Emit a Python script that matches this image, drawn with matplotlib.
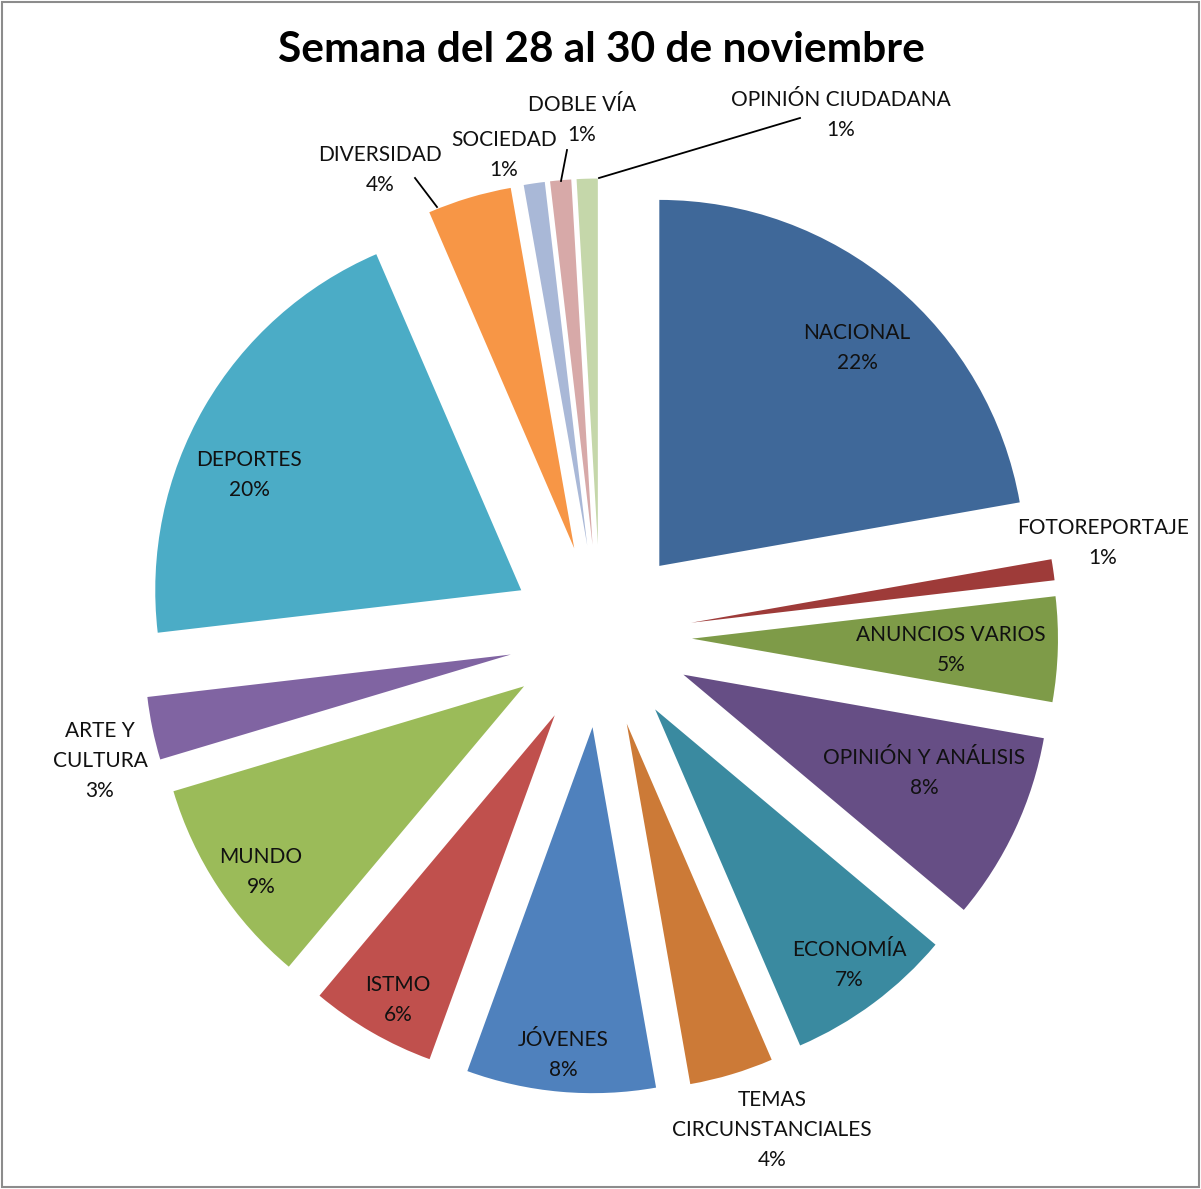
import matplotlib
matplotlib.use('Agg')
from matplotlib import pyplot as plt
from matplotlib.patches import Rectangle

# notas publicadas por sección (orden de las agujas del reloj desde las 12)
secciones = ['NACIONAL', 'FOTOREPORTAJE', 'ANUNCIOS VARIOS', 'OPINIÓN Y ANÁLISIS', 'ECONOMÍA',
             'TEMAS\nCIRCUNSTANCIALES', 'JÓVENES', 'ISTMO', 'MUNDO', 'ARTE Y\nCULTURA',
             'DEPORTES', 'DIVERSIDAD', 'SOCIEDAD', 'DOBLE VÍA', 'OPINIÓN CIUDADANA']
notas = [24, 1, 5, 9, 8, 4, 9, 6, 10, 3, 22, 4, 1, 1, 1]
colores = ['#3F6899', '#9E3B39', '#7E9B48', '#664E85', '#3A8AA0',
           '#CC7A37', '#4F81BD', '#C0504D', '#9BBB59', '#8064A2',
           '#4BACC6', '#F79646', '#A9B8D7', '#D7A9A8', '#C5D7AA']
titulo = 'Semana del 28 al 30 de noviembre'

# geometry in pixels of the original picture
W, H = 1201, 1189
CX, CY, R = 600.5, 636, 366


def px(x, y):
    return (x - CX) / R, (CY - y) / R


# label centres (pixels)
pos_etiquetas = [(857, 348), (1103, 543), (951, 650), (924, 773), (849, 965),
                 (772, 1130), (563, 1055), (398, 1000), (261, 872), (100, 761),
                 (249, 475), (380, 170), (504, 155), (582, 120), (841, 115)]
# leader lines (pixels)
guias = [((415, 178), (437, 207)), ((567, 150), (561, 181)), ((800, 118), (599, 178))]

plt.rcParams['font.family'] = ['Lato', 'DejaVu Sans']

fig = plt.figure(figsize=(W / 100, H / 100), dpi=100)
ax = fig.add_axes([0, 0, 1, 1])

ax.pie(notas, colors=colores, explode=[0.25] * len(notas), startangle=90,
       counterclock=False, radius=1, wedgeprops={'linewidth': 0})

total = sum(notas)
for nombre, n, (x, y) in zip(secciones, notas, pos_etiquetas):
    tx, ty = px(x, y)
    ax.text(tx, ty, nombre + '\n' + str(round(100 * n / total)) + '%',
            ha='center', va='center', fontsize=15, linespacing=1.63, color='#111111')

for a, b in guias:
    (x0, y0), (x1, y1) = px(*a), px(*b)
    ax.plot([x0, x1], [y0, y1], color='black', linewidth=1.3)

ax.set_xlim(-CX / R, (W - CX) / R)
ax.set_ylim(-(H - CY) / R, CY / R)
ax.set_aspect('auto')
ax.axis('off')

fig.text(601 / W, 1 - 50 / H, titulo, ha='center', va='center',
         fontsize=30.5, fontweight='bold')

fig.patches.append(Rectangle((2 / W, 2 / H), 1 - 4 / W, 1 - 4 / H, transform=fig.transFigure,
                             fill=False, edgecolor='#8C8C8C', linewidth=1.5))

plt.savefig('out.png', dpi=100)
